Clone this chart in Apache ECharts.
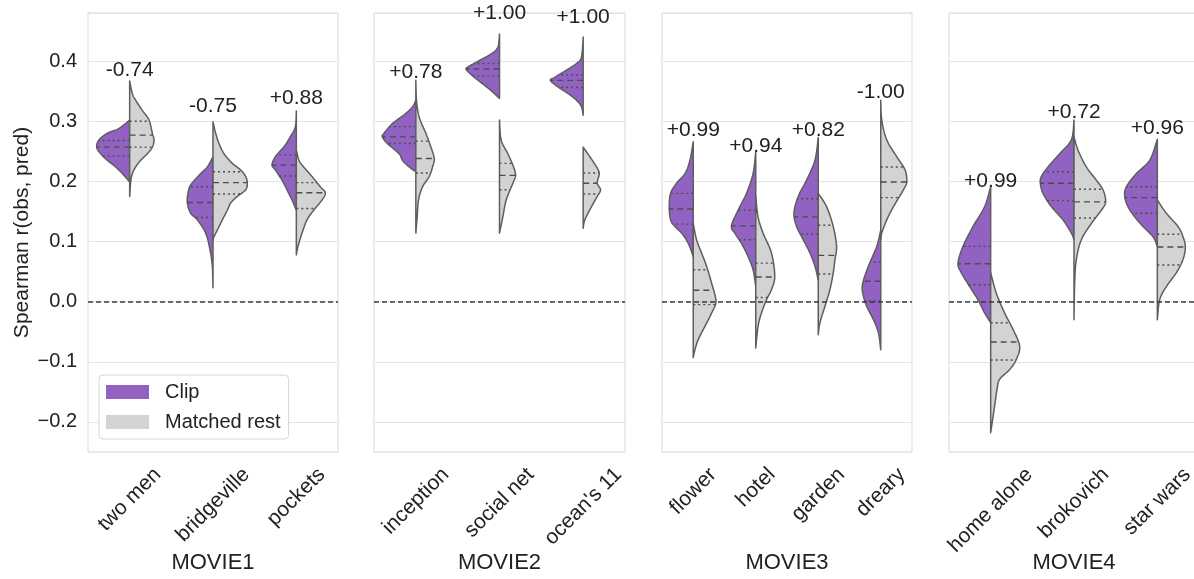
<!DOCTYPE html>
<html><head><meta charset="utf-8">
<script src="https://cdn.jsdelivr.net/npm/echarts@6/dist/echarts.min.js"></script>
<style>html,body{margin:0;padding:0;background:#fff}#c{width:1194px;height:579px}</style>
</head><body><div id="c"></div>
<script>
// ---------------- data ----------------
const panelNames = ['MOVIE1', 'MOVIE2', 'MOVIE3', 'MOVIE4'];
const movie1Cats = ['two men', 'bridgeville', 'pockets'];
const movie2Cats = ['inception', 'social net', "ocean's 11"];
const movie3Cats = ['flower', 'hotel', 'garden', 'dreary'];
const movie4Cats = ['home alone', 'brokovich', 'star wars'];

// density profiles: [r value, half-width as fraction of category band]
const movie1Clip = [
  [[0.302,0],[0.288,0.128],[0.280,0.268],[0.269,0.368],[0.257,0.396],[0.246,0.348],[0.235,0.268],[0.224,0.168],[0.213,0.088],[0.199,0]],
  [[0.241,0],[0.224,0.068],[0.213,0.148],[0.194,0.268],[0.180,0.300],[0.164,0.308],[0.147,0.268],[0.136,0.188],[0.114,0.088],[0.086,0.036],[0.059,0.008],[0.023,0]],
  [[0.317,0],[0.291,0.012],[0.274,0.072],[0.257,0.152],[0.241,0.252],[0.227,0.292],[0.219,0.252],[0.202,0.172],[0.186,0.112],[0.169,0.052],[0.152,0]]
];
const movie1Rest = [
  [[0.367,0],[0.346,0.032],[0.335,0.072],[0.318,0.152],[0.302,0.232],[0.280,0.272],[0.269,0.292],[0.257,0.272],[0.246,0.212],[0.235,0.132],[0.224,0.072],[0.213,0.032],[0.199,0.012],[0.175,0]],
  [[0.299,0],[0.280,0.032],[0.263,0.072],[0.246,0.132],[0.230,0.232],[0.219,0.332],[0.208,0.392],[0.197,0.412],[0.186,0.392],[0.175,0.292],[0.164,0.212],[0.152,0.172],[0.136,0.112],[0.119,0.052],[0.108,0.012],[0.103,0]],
  [[0.252,0],[0.235,0.032],[0.224,0.088],[0.208,0.188],[0.191,0.288],[0.181,0.348],[0.169,0.308],[0.152,0.208],[0.136,0.128],[0.114,0.068],[0.092,0.02],[0.078,0]]
];
const movie2Clip = [
  [[0.335,0],[0.324,0.04],[0.313,0.12],[0.296,0.28],[0.280,0.38],[0.274,0.40],[0.263,0.34],[0.246,0.2],[0.235,0.16],[0.224,0.08],[0.216,0]],
  [[0.445,0],[0.423,0.02],[0.412,0.1],[0.401,0.24],[0.390,0.38],[0.385,0.392],[0.373,0.3],[0.362,0.2],[0.351,0.1],[0.338,0]],
  [[0.440,0],[0.407,0.02],[0.396,0.08],[0.385,0.2],[0.373,0.34],[0.368,0.392],[0.357,0.3],[0.346,0.18],[0.335,0.08],[0.324,0.02],[0.310,0]]
];
const movie2Rest = [
  [[0.368,0],[0.335,0.008],[0.307,0.04],[0.280,0.12],[0.257,0.18],[0.238,0.22],[0.224,0.2],[0.208,0.16],[0.191,0.08],[0.169,0.032],[0.141,0.016],[0.114,0]],
  [[0.302,0],[0.269,0.02],[0.246,0.1],[0.224,0.168],[0.210,0.192],[0.197,0.16],[0.169,0.08],[0.141,0.04],[0.114,0]],
  [[0.257,0],[0.241,0.08],[0.224,0.16],[0.213,0.192],[0.197,0.168],[0.186,0.208],[0.175,0.168],[0.158,0.1],[0.136,0.02],[0.122,0]]
];
const movie3Clip = [
  [[0.266,0],[0.235,0.053],[0.213,0.133],[0.197,0.267],[0.180,0.363],[0.158,0.384],[0.136,0.363],[0.125,0.293],[0.114,0.187],[0.097,0.08],[0.075,0]],
  [[0.249,0],[0.213,0.043],[0.180,0.149],[0.152,0.283],[0.126,0.389],[0.114,0.336],[0.097,0.229],[0.075,0.123],[0.053,0.043],[0.025,0]],
  [[0.273,0],[0.235,0.053],[0.202,0.187],[0.175,0.32],[0.147,0.389],[0.125,0.347],[0.103,0.24],[0.081,0.133],[0.059,0.053],[0.036,0]],
  [[0.119,0],[0.092,0.064],[0.059,0.197],[0.031,0.288],[0.014,0.288],[-0.008,0.224],[-0.030,0.117],[-0.052,0.037],[-0.080,0]]
];
const movie3Rest = [
  [[0.130,0],[0.103,0.053],[0.081,0.133],[0.059,0.213],[0.031,0.293],[0.001,0.363],[-0.019,0.293],[-0.041,0.187],[-0.063,0.08],[-0.080,0.027],[-0.093,0]],
  [[0.175,0],[0.141,0.037],[0.114,0.117],[0.081,0.251],[0.042,0.304],[0.020,0.251],[0.003,0.171],[-0.019,0.091],[-0.041,0.037],[-0.077,0]],
  [[0.180,0],[0.158,0.133],[0.125,0.24],[0.092,0.293],[0.070,0.267],[0.048,0.24],[0.020,0.187],[-0.008,0.107],[-0.035,0.027],[-0.055,0]],
  [[0.335,0],[0.302,0.016],[0.269,0.096],[0.241,0.256],[0.219,0.389],[0.199,0.416],[0.186,0.363],[0.158,0.203],[0.136,0.096],[0.114,0.016],[0.103,0]]
];
const movie4Clip = [
  [[0.191,0],[0.158,0.072],[0.125,0.212],[0.092,0.332],[0.064,0.392],[0.048,0.352],[0.025,0.252],[0.003,0.152],[-0.019,0.072],[-0.035,0]],
  [[0.302,0],[0.269,0.032],[0.246,0.172],[0.224,0.312],[0.208,0.392],[0.197,0.404],[0.180,0.372],[0.158,0.272],[0.136,0.132],[0.114,0.032],[0.103,0]],
  [[0.270,0],[0.235,0.092],[0.213,0.252],[0.191,0.372],[0.175,0.392],[0.158,0.352],[0.141,0.272],[0.125,0.172],[0.108,0.052],[0.092,0]]
];
const movie4Rest = [
  [[0.048,0],[0.014,0.068],[-0.019,0.168],[-0.046,0.268],[-0.074,0.348],[-0.096,0.308],[-0.113,0.228],[-0.129,0.108],[-0.146,0.076],[-0.173,0.048],[-0.218,0]],
  [[0.274,0],[0.252,0.048],[0.224,0.148],[0.202,0.268],[0.186,0.348],[0.166,0.38],[0.152,0.328],[0.130,0.208],[0.103,0.088],[0.070,0.028],[0.031,0.008],[-0.030,0]],
  [[0.169,0],[0.147,0.108],[0.125,0.248],[0.108,0.308],[0.091,0.336],[0.070,0.308],[0.048,0.228],[0.025,0.108],[0.003,0.028],[-0.030,0]]
];

// quartiles [q1, median, q3]
const movie1ClipQ = [[0.242,0.257,0.268],[0.140,0.165,0.191],[0.209,0.227,0.244]];
const movie1RestQ = [[0.257,0.277,0.300],[0.179,0.198,0.216],[0.155,0.181,0.198]];
const movie2ClipQ = [[0.263,0.274,0.291],[0.375,0.387,0.396],[0.356,0.368,0.377]];
const movie2RestQ = [[0.214,0.238,0.267],[0.186,0.210,0.230],[0.179,0.197,0.214]];
const movie3ClipQ = [[0.129,0.154,0.180],[0.103,0.126,0.152],[0.112,0.141,0.171],[0.001,0.034,0.066]];
const movie3RestQ = [[-0.005,0.019,0.053],[0.007,0.041,0.064],[0.046,0.077,0.127],[0.173,0.199,0.224]];
const movie4ClipQ = [[0.028,0.063,0.092],[0.168,0.197,0.216],[0.147,0.173,0.191]];
const movie4RestQ = [[-0.097,-0.067,-0.035],[0.139,0.166,0.187],[0.061,0.091,0.112]];

// correlation annotations and the r value they sit at
const movie1Corr = ['-0.74', '-0.75', '+0.88'];
const movie2Corr = ['+0.78', '+1.00', '+1.00'];
const movie3Corr = ['+0.99', '+0.94', '+0.82', '-1.00'];
const movie4Corr = ['+0.99', '+0.72', '+0.96'];
const movie1CorrAt = [0.385, 0.325, 0.339];
const movie2CorrAt = [0.382, 0.480, 0.473];
const movie3CorrAt = [0.285, 0.259, 0.285, 0.349];
const movie4CorrAt = [0.201, 0.315, 0.289];

const seriesNames = ['Clip', 'Matched rest'];

// ---------------- chart ----------------
const cats = [movie1Cats, movie2Cats, movie3Cats, movie4Cats];
const clipD = [movie1Clip, movie2Clip, movie3Clip, movie4Clip];
const restD = [movie1Rest, movie2Rest, movie3Rest, movie4Rest];
const clipQ = [movie1ClipQ, movie2ClipQ, movie3ClipQ, movie4ClipQ];
const restQ = [movie1RestQ, movie2RestQ, movie3RestQ, movie4RestQ];
const corr = [movie1Corr, movie2Corr, movie3Corr, movie4Corr];
const corrAt = [movie1CorrAt, movie2CorrAt, movie3CorrAt, movie4CorrAt];

const FONT = 'Liberation Sans, Arial, sans-serif';
const PURPLE = '#9262c3';
const GREY = '#d3d3d3';
const EDGE = '#5e5e5e';
const TXT = '#222222';
const gridBoxes = [[88, 250], [374, 251], [662, 250], [949, 250]];

const measureCtx = document.createElement('canvas').getContext('2d');
function textW(t, fs) { measureCtx.font = fs + 'px "Liberation Sans", Arial, sans-serif'; return measureCtx.measureText(t).width; }

function catmull(p, segs) {
  const out = [];
  for (let i = 0; i < p.length - 1; i++) {
    const p0 = p[Math.max(i - 1, 0)], p1 = p[i], p2 = p[i + 1], p3 = p[Math.min(i + 2, p.length - 1)];
    for (let t = 0; t < segs; t++) {
      const s = t / segs, s2 = s * s, s3 = s2 * s;
      const f = k => 0.5 * (2 * p1[k] + (-p0[k] + p2[k]) * s + (2 * p0[k] - 5 * p1[k] + 4 * p2[k] - p3[k]) * s2 + (-p0[k] + 3 * p1[k] - 3 * p2[k] + p3[k]) * s3);
      out.push([f(0), f(1)]);
    }
  }
  out.push(p[p.length - 1]);
  return out;
}
function xAt(curve, y) {
  for (let i = 0; i < curve.length - 1; i++) {
    const a = curve[i], b = curve[i + 1];
    if ((a[1] - y) * (b[1] - y) <= 0 && a[1] !== b[1]) {
      const t = (y - a[1]) / (b[1] - a[1]);
      return a[0] + t * (b[0] - a[0]);
    }
  }
  return curve[0][0];
}
function violinRender(profiles, quarts, side, fill) {
  return function (params, api) {
    const i = api.value(0);
    const prof = profiles[i];
    const cx = api.coord([i, 0])[0];
    const band = api.size([1, 0])[0];
    const pts = prof.map(d => [cx + side * d[1] * band, api.coord([i, d[0]])[1]]);
    const curve = catmull(pts, 10).map(p => [side < 0 ? Math.min(p[0], cx) : Math.max(p[0], cx), p[1]]);
    const children = [{
      type: 'polygon', shape: { points: curve },
      style: { fill: fill, stroke: EDGE, lineWidth: 1.5, lineJoin: 'round' }
    }];
    quarts[i].forEach((q, k) => {
      const y = api.coord([i, q])[1];
      const x = xAt(curve, y);
      children.push({
        type: 'line', shape: { x1: cx, y1: y, x2: x, y2: y },
        style: { stroke: '#4d4d4d', lineWidth: 1.4, lineDash: k === 1 ? [6, 4] : [2, 3] }
      });
    });
    return { type: 'group', children: children };
  };
}
function labelRender(texts) {
  return function (params, api) {
    const i = api.value(0);
    const p = api.coord([i, api.value(1)]);
    return { type: 'text', x: p[0], y: p[1],
      style: { text: texts[i], fontSize: 21, fontFamily: FONT, fill: TXT, align: 'center', verticalAlign: 'middle' } };
  };
}

const grids = [], xAxes = [], yAxes = [], series = [];
panelNames.forEach((pn, k) => {
  grids.push({ left: gridBoxes[k][0], width: gridBoxes[k][1], top: 13, height: 439,
    show: true, borderColor: '#d9d9d9', borderWidth: 1, backgroundColor: 'transparent',
    containLabel: false, outerBoundsMode: 'none' });
  const fsX = 21;
  const rich = {};
  cats[k].forEach((c, i) => {
    const pad = (textW(c, fsX) + fsX) / 2;
    rich['t' + i] = { fontSize: fsX, fontFamily: FONT, color: TXT, padding: [pad, pad, 0, 0] };
  });
  xAxes.push({
    type: 'category', gridIndex: k, data: cats[k], boundaryGap: true,
    axisLine: { show: false }, axisTick: { show: false }, splitLine: { show: false },
    axisLabel: { interval: 0, rotate: 45, align: 'center', verticalAlign: 'middle', margin: 12,
      fontSize: fsX, fontFamily: FONT, color: TXT, hideOverlap: false,
      formatter: (v, i) => '{t' + i + '|' + v + '}', rich: rich },
    name: pn, nameLocation: 'middle', nameGap: 100, nameMoveOverlap: false,
    nameTextStyle: { fontSize: 22, fontFamily: FONT, color: TXT }
  });
  yAxes.push({
    type: 'value', gridIndex: k, min: -0.25, max: 0.48, splitNumber: 7,
    axisLine: { show: false }, axisTick: { show: false },
    splitLine: { show: true, lineStyle: { color: '#e4e4e4', width: 1 } },
    axisLabel: { show: k === 0, fontSize: 20, fontFamily: FONT, color: TXT, margin: 11,
      showMinLabel: false, showMaxLabel: false,
      formatter: v => { const r = Math.round(v * 10) / 10; if (Math.abs(r - v) > 1e-6) return '';
        return (r < -1e-9 ? '\u2212' : '') + Math.abs(r).toFixed(1); } },
    name: k === 0 ? 'Spearman r(obs, pred)' : '', nameLocation: 'middle', nameGap: 55, nameMoveOverlap: false,
    nameTextStyle: { fontSize: 21, fontFamily: FONT, color: TXT }
  });
  series.push({
    type: 'custom', name: seriesNames[0], xAxisIndex: k, yAxisIndex: k, z: 2,
    itemStyle: { color: PURPLE },
    renderItem: violinRender(clipD[k], clipQ[k], -1, PURPLE),
    encode: { x: 0, y: 1 },
    data: cats[k].map((c, i) => [i, clipQ[k][i][1]])
  });
  series.push({
    type: 'custom', name: seriesNames[1], xAxisIndex: k, yAxisIndex: k, z: 2,
    itemStyle: { color: GREY },
    renderItem: violinRender(restD[k], restQ[k], 1, GREY),
    encode: { x: 0, y: 1 },
    data: cats[k].map((c, i) => [i, restQ[k][i][1]]),
    markLine: { silent: true, symbol: ['none', 'none'], label: { show: false }, z: 5,
      lineStyle: { color: '#3a3a3a', type: [5, 3], width: 1.5 }, data: [{ yAxis: 0 }] }
  });
  series.push({
    type: 'custom', name: 'corr' + k, xAxisIndex: k, yAxisIndex: k, z: 3,
    renderItem: labelRender(corr[k]), encode: { x: 0, y: 1 },
    data: cats[k].map((c, i) => [i, corrAt[k][i]])
  });
});

const chart = echarts.init(document.getElementById('c'), null, { renderer: 'canvas' });
chart.setOption({
  animation: false,
  backgroundColor: '#ffffff',
  textStyle: { fontFamily: FONT },
  grid: grids, xAxis: xAxes, yAxis: yAxes, series: series,
  legend: {
    data: seriesNames, orient: 'vertical', left: 99, top: 375,
    icon: 'rect', itemWidth: 43, itemHeight: 14, itemGap: 10,
    itemStyle: { borderWidth: 0 },
    padding: [7, 8, 7, 7], borderColor: '#d6d6d6', borderWidth: 1, borderRadius: 4,
    backgroundColor: '#ffffff',
    textStyle: { fontSize: 20, fontFamily: FONT, color: TXT, padding: [0, 0, 0, 11] }
  }
});
</script></body></html>
